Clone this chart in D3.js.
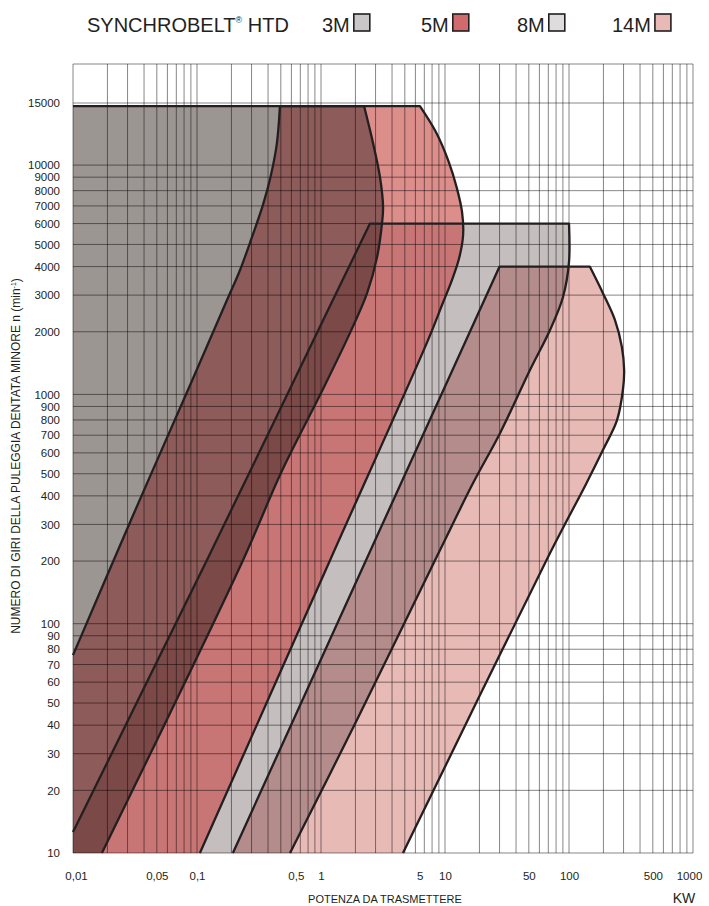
<!DOCTYPE html>
<html><head><meta charset="utf-8">
<script src="https://cdn.jsdelivr.net/npm/d3@7"></script>
<style>
body{margin:0;background:#fff}
svg{display:block}
text{font-family:"Liberation Sans",Arial,Helvetica,sans-serif;fill:#231f20}
</style>
</head><body>
<svg id="chart" width="709" height="906"></svg>
<script>
// ---------- data ----------
const belts = ["3M", "5M", "8M", "14M"];
const legendColors = ["#c8c8c8", "#d06a6c", "#dddddd", "#e8b9b5"];

const xTicks = [0.01, 0.05, 0.1, 0.5, 1, 5, 10, 50, 100, 500, 1000];
const xTickLabels = ["0,01", "0,05", "0,1", "0,5", "1", "5", "10", "50", "100", "500", "1000"];
const yTicks = [10, 20, 30, 40, 50, 60, 70, 80, 90, 100, 200, 300, 400, 500, 600, 700, 800, 900,
  1000, 2000, 3000, 4000, 5000, 6000, 7000, 8000, 9000, 10000, 15000];

// power (kW), rpm (min-1)
const m3Top = [[0.01, 14700], [2.38, 14700]];
const m3Right = [[2.38, 14700], [2.85, 11550], [3.24, 9010], [3.42, 6930], [3.36, 6040], [3.08, 4400],
  [2.53, 3060], [1.79, 1970], [1.0, 1015], [0.501, 503], [0.2525, 202], [0.0179, 10]];

const m5Top = [[0.492, 14700], [6.49, 14700]];
const m5Right = [[6.49, 14700], [8.55, 12410], [10.8, 10200], [12.7, 8180], [14.1, 6630], [14.4, 5430],
  [13.3, 4360], [11.5, 3490], [9.5, 2690], [7.46, 1824], [1.2, 202], [0.106, 10]];
const m5Left = [[0.01, 76], [0.0318, 313], [0.0902, 1135], [0.183, 2840], [0.238, 3865], [0.302, 5330],
  [0.366, 7060], [0.421, 9180], [0.467, 11550], [0.492, 14700]];

const m8Top = [[2.68, 6000], [100, 6000]];
const m8Right = [[100, 6000], [100, 4180], [90.2, 2940], [72.1, 2040], [51, 1310], [30.3, 714],
  [17.6, 455], [9.18, 226], [2.06, 42.1], [0.586, 10]];
const m8Left = [[0.01, 12.6], [0.122, 202], [0.451, 799], [1.27, 2840], [2.68, 6000]];

const m14Top = [[30, 4000], [152, 4000]];
const m14Right = [[152, 4000], [198, 3060], [252, 2280], [290, 1690], [303, 1310], [296, 1050],
  [263, 799], [198, 615], [141, 451], [72.1, 218.5], [4.84, 10]];
const m14Left = [[0.206, 10], [30, 4000]];

// ---------- layout / style ----------
const pL = 73, pR = 693, pT = 64, pB = 853;
const colors = {
  c3: "#9c9693", c5: "#dc8e8b", c8: "#c4bfbe", c14: "#e8bab6",
  c35: "#8d5b59", c358: "#7b4947", c58: "#c87675", c814: "#b38c8b"
};
const ink = "#231f20";

// printed log paper: each decade split 1-3-5-10 (slightly non-standard spacing)
function paper(e0, e1, f3, f5, r0, step) {
  const dom = [], rng = [];
  for (let k = e0; k < e1; k++) {
    const i = k - e0;
    [[1, 0], [3, f3], [5, f5]].forEach(([m, f]) => {
      dom.push(+(m * Math.pow(10, k)).toPrecision(6));
      rng.push(r0 + step * (i + f));
    });
  }
  dom.push(Math.pow(10, e1)); rng.push(r0 + step * (e1 - e0));
  return [dom, rng];
}
const [xd, xr] = paper(-2, 3, 0.44, 0.676, pL, (pR - pL) / 5);
const x = d3.scaleLog().domain(xd).range(xr);
const [yd, yr] = paper(1, 4, 0.433, 0.654, pB, -229.3);
yd.push(15000); yr.push(103);
const y = d3.scaleLog().domain(yd).range(yr);

const svg = d3.select("#chart");

const lineC = d3.line().x(d => x(d[0])).y(d => y(d[1])).curve(d3.curveCatmullRom.alpha(0.5));
const lineL = d3.line().x(d => x(d[0])).y(d => y(d[1]));
function join(parts) {
  return parts.map((p, i) => {
    const s = (p.c ? lineC : lineL)(p.pts);
    return i === 0 ? s : s.replace(/^M/, "L");
  }).join("");
}
const last = a => a[a.length - 1];
const x0 = xd[0], y0 = yd[0];

const fill3 = join([{pts: m3Top}, {pts: m3Right, c: 1}, {pts: [last(m3Right), [x0, y0], m3Top[0]]}]) + "Z";
const fill5 = join([{pts: m5Top}, {pts: m5Right, c: 1}, {pts: [last(m5Right), [x0, y0], m5Left[0]]}, {pts: m5Left, c: 1}]) + "Z";
const fill8 = join([{pts: m8Top}, {pts: m8Right, c: 1}, {pts: [last(m8Right), [x0, y0], m8Left[0]]}, {pts: m8Left}]) + "Z";
const fill14 = join([{pts: m14Top}, {pts: m14Right, c: 1}, {pts: [last(m14Right), m14Left[0]]}, {pts: m14Left}]) + "Z";

const out3 = join([{pts: m3Top}, {pts: m3Right, c: 1}]);
const out5 = join([{pts: m5Left, c: 1}, {pts: m5Top}, {pts: m5Right, c: 1}]);
const out8 = join([{pts: m8Left}, {pts: m8Top}, {pts: m8Right, c: 1}]);
const out14 = join([{pts: m14Left}, {pts: m14Top}, {pts: m14Right, c: 1}]);

const defs = svg.append("defs");
[["clip3", fill3], ["clip5", fill5], ["clip8", fill8]].forEach(([id, d]) =>
  defs.append("clipPath").attr("id", id).append("path").attr("d", d));

const plot = svg.append("g");
plot.append("path").attr("d", fill3).attr("fill", colors.c3);
plot.append("path").attr("d", fill5).attr("fill", colors.c5);
plot.append("path").attr("d", fill8).attr("fill", colors.c8);
plot.append("path").attr("d", fill14).attr("fill", colors.c14);
// overlaps
plot.append("path").attr("d", fill5).attr("fill", colors.c35).attr("clip-path", "url(#clip3)");
plot.append("path").attr("d", fill8).attr("fill", colors.c58).attr("clip-path", "url(#clip5)");
plot.append("g").attr("clip-path", "url(#clip3)")
  .append("path").attr("d", fill8).attr("fill", colors.c358).attr("clip-path", "url(#clip5)");
plot.append("path").attr("d", fill14).attr("fill", colors.c814).attr("clip-path", "url(#clip8)");

// grid
const xGrid = [];
for (let k = -2; k < 3; k++) for (let m = 1; m < 10; m++) xGrid.push(+(m * Math.pow(10, k)).toPrecision(6));
xGrid.push(1000);
const yGrid = [];
for (let k = 1; k < 4; k++) for (let m = 1; m < 10; m++) yGrid.push(m * Math.pow(10, k));
yGrid.push(10000, 15000);

const grid = svg.append("g").attr("stroke", "#000").attr("stroke-opacity", 0.6).attr("stroke-width", 0.8);
grid.selectAll(".gx").data(xGrid).join("line")
  .attr("x1", d => x(d)).attr("x2", d => x(d)).attr("y1", pT).attr("y2", pB);
grid.selectAll(".gy").data(yGrid).join("line")
  .attr("x1", pL).attr("x2", pR).attr("y1", d => y(d)).attr("y2", d => y(d));
grid.append("line").attr("x1", pL).attr("x2", pR).attr("y1", pT).attr("y2", pT);

// outlines
const outl = svg.append("g").attr("fill", "none").attr("stroke", ink).attr("stroke-width", 2.3)
  .attr("stroke-linejoin", "round");
[out3, out5, out8, out14].forEach(d => outl.append("path").attr("d", d));

// axes
const labelNudge = v => (v === 0.5 || v === 5) ? 15 : v === 0.01 ? 3 : v === 1000 ? -4 : 0;
const ax = svg.append("g").attr("transform", `translate(0,${pB})`)
  .call(d3.axisBottom(x).tickValues(xTicks).tickFormat((d, i) => xTickLabels[i]).tickSize(0).tickPadding(19));
ax.select(".domain").remove();
ax.selectAll("text").attr("font-size", 11.5).attr("font-family", null).attr("fill", ink)
  .attr("dx", d => labelNudge(d));

const ay = svg.append("g").attr("transform", `translate(${pL},0)`)
  .call(d3.axisLeft(y).tickValues(yTicks).tickFormat(d3.format("d")).tickSize(0).tickPadding(13));
ay.select(".domain").remove();
ay.selectAll("text").attr("font-size", 11.5).attr("font-family", null).attr("fill", ink);

svg.append("text").attr("x", 385).attr("y", 903).attr("text-anchor", "middle").attr("font-size", 11)
  .text("POTENZA DA TRASMETTERE");
svg.append("text").attr("x", 684).attr("y", 903).attr("text-anchor", "middle").attr("font-size", 14)
  .text("KW");

const yt = svg.append("text").attr("transform", "translate(20,456) rotate(-90)")
  .attr("text-anchor", "middle").attr("font-size", 12);
yt.append("tspan").text("NUMERO DI GIRI DELLA PULEGGIA DENTATA MINORE n (min");
yt.append("tspan").attr("font-size", 7).attr("dy", -4).text("-1");
yt.append("tspan").attr("dy", 4).text(")");

// legend
const lt = svg.append("text").attr("x", 87).attr("y", 32).attr("font-size", 20);
lt.append("tspan").text("SYNCHROBELT");
lt.append("tspan").attr("font-size", 9).attr("dy", -9).text("®");
lt.append("tspan").attr("dy", 9).text(" HTD");

const legX = [322, 421, 517, 612];
const lg = svg.append("g");
belts.forEach((b, i) => {
  const t = lg.append("text").attr("x", legX[i]).attr("y", 32).attr("font-size", 20).text(b);
  const w = t.node().getComputedTextLength();
  lg.append("rect").attr("x", legX[i] + w + 4).attr("y", 14).attr("width", 16).attr("height", 17)
    .attr("fill", legendColors[i]).attr("stroke", ink).attr("stroke-width", 1.6);
});
</script>
</body></html>
